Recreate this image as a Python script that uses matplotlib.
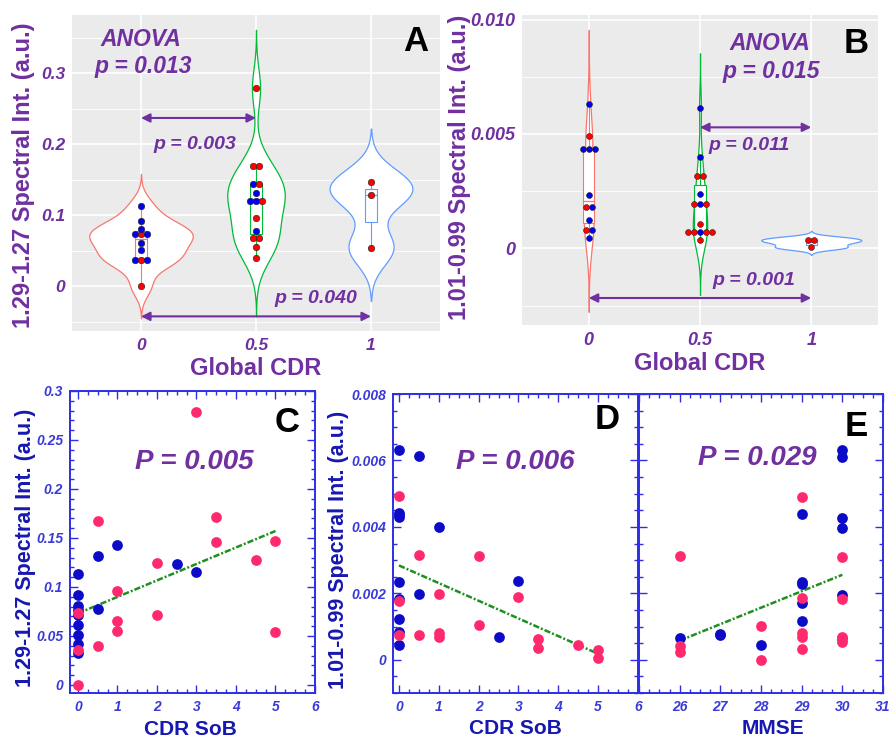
# Spectral intensity vs global CDR (violins) and vs CDR SoB / MMSE (scatter)
import matplotlib.pyplot as plt
import numpy as np
from matplotlib.ticker import MultipleLocator, FixedLocator, FuncFormatter

plt.rcParams['font.family'] = ['Liberation Sans', 'DejaVu Sans']
plt.rcParams['font.weight'] = 'bold'
plt.rcParams['font.style'] = 'italic'
plt.rcParams['axes.labelweight'] = 'bold'

# ---- data: one entry per subject (C / D scatter, grouped by CDR for A / B)
sob = [0, 0, 0, 0, 0, 0, 0, 0, 0, 0, 0, 0,
       0.5, 0.5, 0.5, 0.5, 1, 1, 1, 1, 2, 2, 2.5, 3, 3, 3.5, 3.5,
       4.5, 5, 5]
cdr = [0] * 12 + [0.5] * 15 + [1] * 3
sex = ['M', 'M', 'M', 'M', 'M', 'M', 'M', 'M', 'M', 'F', 'F', 'F',
       'M', 'M', 'F', 'F', 'M', 'F', 'F', 'F', 'F', 'F', 'M', 'M', 'F', 'F', 'F',
       'F', 'F', 'F']
int_129 = [0.033, 0.042, 0.051, 0.061, 0.071, 0.076, 0.081, 0.092, 0.113, 0.036, 0.073, 0.0,
           0.132, 0.0775, 0.167, 0.0398, 0.1427, 0.096, 0.0656, 0.0554, 0.124, 0.071,
           0.123, 0.1155, 0.279, 0.171, 0.146, 0.128, 0.147, 0.0544]
int_101 = [0.00632, 0.00441, 0.00436, 0.00431, 0.00234, 0.00183, 0.00122, 0.00083, 0.00045,
           0.00493, 0.00178, 0.00075,
           0.00614, 0.00198, 0.00316, 0.00075, 0.00401, 0.00199, 0.0008, 0.00068,
           0.00313, 0.00105, 0.00068, 0.00238, 0.0019, 0.00062, 0.00035,
           0.00044, 0.00028, 0.00004]

# panel E: MMSE vs 1.01-0.99 intensity
mmse_e = [26, 26, 26, 26, 27, 27, 28, 28, 28,
          29, 29, 29, 29, 29, 29, 29, 29, 29, 29,
          30, 30, 30, 30, 30, 30, 30, 30, 30, 30, 30]
int_e = [0.00313, 0.00065, 0.00042, 0.00022, 0.00075, 0.00079, 0.00103, 0.00043, 0.0,
         0.00489, 0.00438, 0.00235, 0.00228, 0.00187, 0.0017, 0.00118, 0.0008, 0.0007, 0.00032,
         0.0063, 0.00611, 0.00426, 0.00396, 0.0031, 0.00195, 0.00183, 0.0007, 0.00066,
         0.00062, 0.00055]
sex_e = ['F', 'M', 'F', 'F', 'M', 'M', 'F', 'M', 'F',
         'F', 'M', 'M', 'M', 'F', 'M', 'M', 'F', 'F', 'F',
         'M', 'M', 'M', 'M', 'F', 'M', 'F', 'F', 'F', 'F', 'F']

cdr_levels = [0, 0.5, 1]
cdr_labels = ['0', '0.5', '1']

PURPLE = '#7030A0'
VCOL = ['#F8766D', '#00BA38', '#619CFF']
AXBLUE = '#2E2EE6'
LABBLUE = '#1717B2'
PT_BLUE = '#0C0CC8'
PT_PINK = '#FF2A6E'
GREEN = '#1F8F1F'

W, H = 889, 742
fig = plt.figure(figsize=(W / 100, H / 100), dpi=100)


def px_axes(l, t, r, b):
    return fig.add_axes([l / W, 1 - b / H, (r - l) / W, (b - t) / H])


def kde(v):
    v = np.asarray(v, float)
    sd = v.std(ddof=1)
    q75, q25 = np.percentile(v, [75, 25])
    lo = min(sd, (q75 - q25) / 1.34)
    bw = 0.9 * lo * len(v) ** -0.2
    ys = np.linspace(v.min() - 3 * bw, v.max() + 3 * bw, 512)
    d = np.exp(-0.5 * ((ys[:, None] - v[None, :]) / bw) ** 2).sum(1)
    d = d / (len(v) * bw * np.sqrt(2 * np.pi))
    return ys, d


def dot_bins(v, binw):
    v = np.asarray(v, float)
    order = np.argsort(v, kind='stable')
    bins = []
    i = 0
    while i < len(v):
        start = v[order[i]]
        j = i
        while j < len(v) and v[order[j]] < start + binw:
            j += 1
        mem = order[i:j]
        bins.append(((v[mem[0]] + v[mem[-1]]) / 2, mem))
        i = j
    return bins


def violin_panel(ax, values, ylim, yticks, ylabels, minor, spacing, dot_s):
    ax.set_facecolor('#EBEBEB')
    for s in ax.spines.values():
        s.set_visible(False)
    groups = [[v for v, c in zip(values, cdr) if c == lev] for lev in cdr_levels]
    gsex = [[s for s, c in zip(sex, cdr) if c == lev] for lev in cdr_levels]
    dens = [kde(g) for g in groups]
    dmax = max(d.max() for _, d in dens)
    binw = (max(values) - min(values)) / 30
    for k, (g, (ys, d)) in enumerate(zip(groups, dens)):
        pos = k + 1
        half = 0.45 * d / dmax
        ax.fill_betweenx(ys, pos - half, pos + half, facecolor='white',
                         edgecolor=VCOL[k], lw=0.9, zorder=2)
        ax.boxplot([g], positions=[pos], widths=0.1, patch_artist=True,
                   showfliers=False, showcaps=False, manage_ticks=False,
                   boxprops=dict(facecolor='white', edgecolor=VCOL[k], lw=0.8),
                   medianprops=dict(color=VCOL[k], lw=0.9),
                   whiskerprops=dict(color=VCOL[k], lw=0.8), zorder=3)
        for c, mem in dot_bins(g, binw):
            n = len(mem)
            for m, idx in enumerate(mem):
                off = (m - (n - 1) / 2) * spacing
                col = '#0000F0' if gsex[k][idx] == 'M' else '#FF0000'
                ax.scatter(pos + off, c, s=dot_s, color=col, edgecolor='#202020',
                           linewidth=0.4, zorder=4)
    ax.set_xlim(0.4, 3.6)
    ax.set_ylim(*ylim)
    ax.set_xticks([1, 2, 3])
    ax.set_xticklabels(cdr_labels)
    ax.set_yticks(yticks)
    ax.set_yticklabels(ylabels)
    ax.yaxis.set_minor_locator(FixedLocator(minor))
    ax.set_axisbelow(True)
    ax.grid(True, which='major', color='white', lw=1.2)
    ax.grid(True, which='minor', axis='y', color='white', lw=0.6)
    ax.tick_params(which='both', length=0, pad=5, labelcolor=PURPLE, labelsize=12.5)
    ax.set_xlabel('Global CDR', color=PURPLE, fontsize=17, fontstyle='normal')
    ax.xaxis.set_label_coords(0.5, -0.082)


def purple_arrow(ax, x1, x2, y):
    ax.annotate('', xy=(x2, y), xytext=(x1, y),
                arrowprops=dict(arrowstyle='<|-|>', color=PURPLE, lw=1.5,
                                mutation_scale=13, shrinkA=0, shrinkB=0), zorder=5)


# ---- A
axA = px_axes(72, 15, 440, 331)
violin_panel(axA, int_129, (-0.063, 0.382), [0, 0.1, 0.2, 0.3], ['0', '0.1', '0.2', '0.3'],
             [-0.05, 0.05, 0.15, 0.25, 0.35], 0.056, 22)
axA.set_ylabel('1.29-1.27 Spectral Int. (a.u.)', color=PURPLE, fontsize=17, fontstyle='normal')
axA.yaxis.set_label_coords(-0.10, 0.494)
purple_arrow(axA, 1, 2, 0.237)
purple_arrow(axA, 1, 3, -0.0424)
axA.text(1.0, 0.348, 'ANOVA', color=PURPLE, fontsize=16.5, ha='center', va='center')
axA.text(1.02, 0.310, 'p = 0.013', color=PURPLE, fontsize=16.5, ha='center', va='center')
axA.text(1.47, 0.200, 'p = 0.003', color=PURPLE, fontsize=14, ha='center', va='center')
axA.text(2.52, -0.017, 'p = 0.040', color=PURPLE, fontsize=14, ha='center', va='center')
axA.text(3.39, 0.344, 'A', color='black', fontsize=25, fontstyle='normal', ha='center', va='center')

# ---- B
axB = px_axes(522, 15, 878, 325)
violin_panel(axB, int_101, (-0.00335, 0.0102), [0, 0.005, 0.010], ['0', '0.005', '0.010'],
             [-0.0025, 0.0025, 0.0075], 0.056, 18)
axB.tick_params(labelsize=13)
axB.set_ylabel('1.01-0.99 Spectral Int. (a.u.)', color=PURPLE, fontsize=17, fontstyle='normal')
axB.yaxis.set_label_coords(-0.142, 0.51)
axB.xaxis.set_label_coords(0.5, -0.086)
purple_arrow(axB, 2, 3, 0.00529)
purple_arrow(axB, 1, 3, -0.00217)
axB.text(2.63, 0.00896, 'ANOVA', color=PURPLE, fontsize=16.5, ha='center', va='center')
axB.text(2.64, 0.00774, 'p = 0.015', color=PURPLE, fontsize=16.5, ha='center', va='center')
axB.text(2.44, 0.00448, 'p = 0.011', color=PURPLE, fontsize=14, ha='center', va='center')
axB.text(2.48, -0.00139, 'p = 0.001', color=PURPLE, fontsize=14, ha='center', va='center')
axB.text(3.40, 0.00896, 'B', color='black', fontsize=25, fontstyle='normal', ha='center', va='center')


# ---- scatter panels
def scatter_panel(ax, x, y, s_list):
    x = np.asarray(x, float)
    y = np.asarray(y, float)
    m = np.array([s == 'M' for s in s_list])
    ax.scatter(x[m], y[m], s=60, color=PT_BLUE, linewidth=0, zorder=3)
    ax.scatter(x[~m], y[~m], s=60, color=PT_PINK, linewidth=0, zorder=4)
    k, b = np.polyfit(x, y, 1)
    xs = np.array([x.min(), x.max()])
    ax.plot(xs, k * xs + b, color=GREEN, lw=1.8, ls=(0, (2.5, 0.8, 0.8, 0.8)), zorder=2)
    for s in ax.spines.values():
        s.set_color(AXBLUE)
        s.set_linewidth(1.4)
    ax.tick_params(which='both', direction='in', top=True, right=True, color=AXBLUE,
                   labelcolor='#3A3AD8', labelsize=10, width=1.0, pad=5)
    ax.tick_params(which='major', length=6)
    ax.tick_params(which='minor', length=3)
    ax.xaxis.set_major_locator(MultipleLocator(1))
    ax.xaxis.set_minor_locator(MultipleLocator(0.25))
    ax.yaxis.set_major_formatter(FuncFormatter(lambda v, p: '%g' % round(v, 6)))


axC = px_axes(70, 391, 315, 693)
scatter_panel(axC, sob, int_129, sex)
axC.set_xlim(-0.2, 6)
axC.set_ylim(-0.0082, 0.3)
axC.yaxis.set_major_locator(MultipleLocator(0.05))
axC.yaxis.set_minor_locator(MultipleLocator(0.01))
axC.set_ylabel('1.29-1.27 Spectral Int. (a.u.)', color=LABBLUE, fontsize=15.5, fontstyle='normal')
axC.yaxis.set_label_coords(-0.14, 0.48)
axC.set_xlabel('CDR SoB', color=LABBLUE, fontsize=15, fontstyle='normal')
axC.xaxis.set_label_coords(0.49, -0.088)
axC.text(2.94, 0.228, 'P = 0.005', color=PURPLE, fontsize=20, ha='center', va='center')
axC.text(5.3, 0.268, 'C', color='black', fontsize=25, fontstyle='normal', ha='center', va='center')

axD = px_axes(393, 394, 638, 693)
scatter_panel(axD, sob, int_101, sex)
axD.set_xlim(-0.15, 6)
axD.set_ylim(-0.001, 0.008)
axD.yaxis.set_major_locator(MultipleLocator(0.002))
axD.yaxis.set_minor_locator(MultipleLocator(0.0005))
axD.set_ylabel('1.01-0.99 Spectral Int. (a.u.)', color=LABBLUE, fontsize=15.5, fontstyle='normal')
axD.yaxis.set_label_coords(-0.18, 0.48)
axD.set_xlabel('CDR SoB', color=LABBLUE, fontsize=15, fontstyle='normal')
axD.xaxis.set_label_coords(0.498, -0.088)
axD.text(2.91, 0.00596, 'P = 0.006', color=PURPLE, fontsize=20, ha='center', va='center')
axD.text(5.22, 0.00722, 'D', color='black', fontsize=25, fontstyle='normal', ha='center', va='center')

axE = px_axes(639, 394, 883, 693)
scatter_panel(axE, mmse_e, int_e, sex_e)
axE.set_xlim(25, 31)
axE.set_ylim(-0.001, 0.008)
axE.yaxis.set_major_locator(MultipleLocator(0.002))
axE.yaxis.set_minor_locator(MultipleLocator(0.0005))
axE.xaxis.set_major_formatter(FuncFormatter(lambda v, p: '' if v < 25.5 else '%d' % v))
axE.tick_params(labelleft=False)
axE.set_xlabel('MMSE', color=LABBLUE, fontsize=15, fontstyle='normal')
axE.xaxis.set_label_coords(0.549, -0.088)
axE.text(27.9, 0.00607, 'P = 0.029', color=PURPLE, fontsize=20, ha='center', va='center')
axE.text(30.33, 0.00702, 'E', color='black', fontsize=25, fontstyle='normal', ha='center', va='center')

fig.savefig('out.png', dpi=100)
